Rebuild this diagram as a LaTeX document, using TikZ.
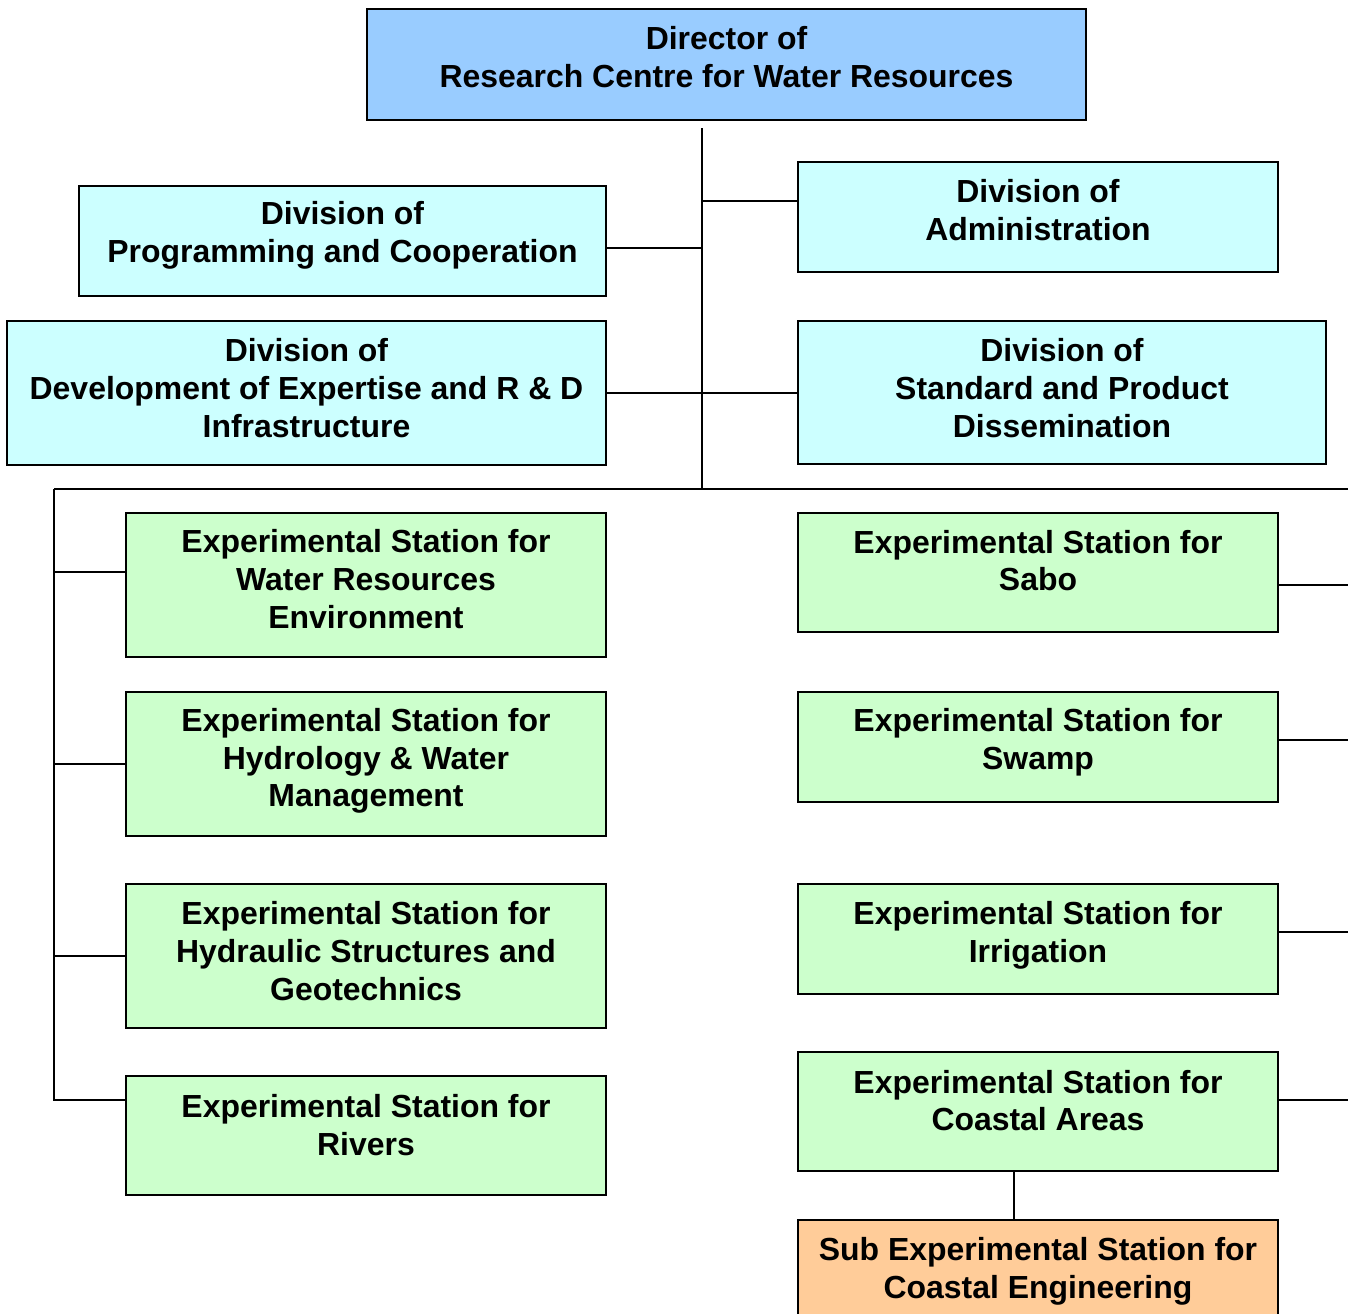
\documentclass[tikz,border=0pt]{standalone}
\usepackage{fontspec}
\setmainfont{Liberation Sans}
\usetikzlibrary{fit}
\definecolor{dirblue}{HTML}{99CCFF}
\definecolor{divcyan}{HTML}{CCFFFF}
\definecolor{stgreen}{HTML}{CCFFCC}
\definecolor{suborange}{HTML}{FFCC99}
\begin{document}
\begin{tikzpicture}[x=0.75pt,y=-0.75pt,
  box/.style={draw=black, line width=1.3pt, inner sep=0pt},
  dirbox/.style={box, fill=dirblue},
  divbox/.style={box, fill=divcyan},
  stbox/.style={box, fill=stgreen},
  subbox/.style={box, fill=suborange},
  txt/.style={align=center, inner sep=0pt, font=\fontsize{23.95}{28.3}\selectfont\bfseries},
  conn/.style={draw=black, line width=1.4pt}]
\useasboundingbox (0,0) rectangle (1348,1313);
\clip (0,0) rectangle (1348,1313);
% boxes
\node[dirbox, fit={(367,9) (1086,120)}] (dir) {};
\node[divbox, fit={(798,162) (1278,272)}] (adm) {};
\node[divbox, fit={(79,186) (606,296)}] (prog) {};
\node[divbox, fit={(7,321) (606,465)}] (dev) {};
\node[divbox, fit={(798,321) (1326,464)}] (std) {};
\node[stbox, fit={(126,513) (606,657)}] (wre) {};
\node[stbox, fit={(126,692) (606,836)}] (hyd) {};
\node[stbox, fit={(126,884) (606,1028)}] (hst) {};
\node[stbox, fit={(126,1076) (606,1195)}] (riv) {};
\node[stbox, fit={(798,513) (1278,632)}] (sabo) {};
\node[stbox, fit={(798,692) (1278,802)}] (swamp) {};
\node[stbox, fit={(798,884) (1278,994)}] (irr) {};
\node[stbox, fit={(798,1052) (1278,1171)}] (coast) {};
\node[subbox, fit={(798,1220) (1278,1330)}] (sub) {};
% texts
\node[txt] (dir-t) at (726.5,57) {Director of\\Research Centre for Water Resources};
\node[txt] (adm-t) at (1038,210) {Division of\\Administration};
\node[txt] (prog-t) at (342.5,235.5) {Division of\\Programming and Cooperation};
\node[txt] (dev-t) at (306.5,388) {Division of\\Development of Expertise and R \& D\\Infrastructure};
\node[txt] (std-t) at (1062,388) {Division of\\Standard and Product\\Dissemination};
\node[txt] (wre-t) at (366,579) {Experimental Station for\\Water Resources\\Environment};
\node[txt] (hyd-t) at (366,761) {Experimental Station for\\Hydrology \& Water\\Management};
\node[txt] (hst-t) at (366,951) {Experimental Station for\\Hydraulic Structures and\\Geotechnics};
\node[txt] (riv-t) at (366,1125) {Experimental Station for\\Rivers};
\node[txt] (sabo-t) at (1038,560.5) {Experimental Station for\\Sabo};
\node[txt] (swamp-t) at (1038,742.5) {Experimental Station for\\Swamp};
\node[txt] (irr-t) at (1038,935.5) {Experimental Station for\\Irrigation};
\node[txt] (coast-t) at (1038,1100.5) {Experimental Station for\\Coastal Areas};
\node[txt] (sub-t) at (1038,1271.5) {Sub Experimental Station for\\Coastal Engineering};
% junction coordinates
\coordinate (top) at (702,128);
\coordinate (hub) at (702,489);
\coordinate (lc) at (54,489);
\coordinate (rc) at (1350,489);
\coordinate (lb) at (54,1100);
% connectors
\draw[conn] (top) -- (hub);
\draw[conn] (top |- 0,201) -- (adm.west |- 0,201);
\draw[conn] (prog.east |- 0,248) -- (top |- 0,248);
\draw[conn] (dev.east |- 0,393) -- (std.west |- 0,393);
\draw[conn] (lc) -- (rc);
\draw[conn] (lc) -- (lb) -- (riv.west |- lb);
\draw[conn] (lc |- 0,572) -- (wre.west |- 0,572);
\draw[conn] (lc |- 0,764) -- (hyd.west |- 0,764);
\draw[conn] (lc |- 0,956) -- (hst.west |- 0,956);
\draw[conn] (sabo.east |- 0,585) -- (rc |- 0,585);
\draw[conn] (swamp.east |- 0,740) -- (rc |- 0,740);
\draw[conn] (irr.east |- 0,932) -- (rc |- 0,932);
\draw[conn] (coast.east |- 0,1100) -- (rc |- 0,1100);
\draw[conn] (coast.south -| 1014,0) -- (sub.north -| 1014,0);
\end{tikzpicture}
\end{document}
